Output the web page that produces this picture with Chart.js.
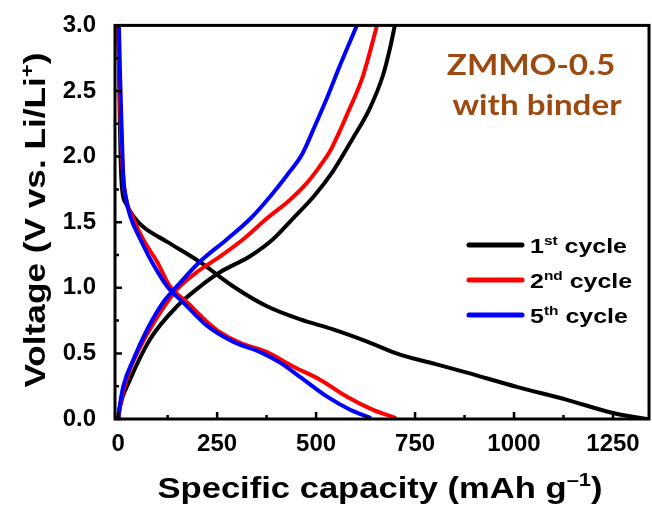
<!DOCTYPE html>
<html><head><meta charset="utf-8">
<script src="https://cdn.jsdelivr.net/npm/chart.js@4"></script>
<style>html,body{margin:0;padding:0;background:#fff}canvas{display:block}</style>
</head><body>
<canvas id="c" width="652" height="508"></canvas>
<script>
// ---- data (capacity in mAh/g, voltage in V) ----
const cycle1DischargeCap = [0, 3, 6, 10, 20, 40, 63, 124, 207, 290, 376, 460, 543, 629, 712, 800, 881, 1007, 1134, 1250, 1336];
const cycle1DischargeV   = [2.98, 2.5, 2.0, 1.75, 1.64, 1.54, 1.465, 1.35, 1.196, 1.012, 0.859, 0.759, 0.683, 0.59, 0.49, 0.42, 0.353, 0.245, 0.146, 0.046, 0.0];
const cycle1ChargeCap    = [0, 5, 30, 81, 149, 207, 258, 333, 391, 442, 495, 543, 593, 636, 669, 687, 699];
const cycle1ChargeV      = [0, 0.1, 0.30, 0.61, 0.86, 1.01, 1.12, 1.24, 1.37, 1.53, 1.70, 1.89, 2.14, 2.37, 2.62, 2.83, 3.0];
const cycle2DischargeCap = [0, 4, 8, 14, 22, 38, 63, 98, 131, 174, 225, 258, 308, 376, 442, 510, 578, 644, 699];
const cycle2DischargeV   = [2.98, 2.5, 2.1, 1.8, 1.65, 1.53, 1.37, 1.2, 1.01, 0.89, 0.74, 0.66, 0.58, 0.51, 0.40, 0.30, 0.17, 0.07, 0.01];
const cycle2ChargeCap    = [0, 5, 23, 56, 106, 149, 199, 258, 316, 376, 430, 477, 508, 535, 553, 578, 619, 654];
const cycle2ChargeV      = [0, 0.1, 0.32, 0.55, 0.81, 0.99, 1.12, 1.24, 1.37, 1.53, 1.66, 1.80, 1.92, 2.04, 2.15, 2.32, 2.62, 3.0];
const cycle5DischargeCap = [2, 5, 9, 13, 20, 30, 56, 81, 124, 164, 225, 290, 359, 409, 460, 528, 586, 636];
const cycle5DischargeV   = [3.0, 2.6, 2.2, 1.85, 1.68, 1.55, 1.37, 1.22, 1.01, 0.89, 0.71, 0.59, 0.51, 0.43, 0.32, 0.17, 0.07, 0.01];
const cycle5ChargeCap    = [0, 4, 13, 38, 73, 114, 157, 207, 275, 335, 385, 427, 465, 495, 528, 561, 603];
const cycle5ChargeV      = [0, 0.1, 0.25, 0.45, 0.68, 0.89, 1.04, 1.20, 1.37, 1.53, 1.70, 1.86, 2.02, 2.22, 2.45, 2.70, 3.0];

const xTickValues  = [0, 250, 500, 750, 1000, 1250];
const xMinorValues = [125, 375, 625, 875, 1125];
const yTickValues  = [0, 0.5, 1.0, 1.5, 2.0, 2.5, 3.0];
const yMinorValues = [0.25, 0.75, 1.25, 1.75, 2.25, 2.75];

const seriesColors   = ['#000000', '#ff0000', '#0000ff'];
const legendNumbers  = ['1', '2', '5'];
const legendSuffixes = ['st', 'nd', 'th'];
const legendWord     = ' cycle';
const xTitleParts = [{t: 'Specific capacity (mAh g'}, {t: '\u20131', sup: true}, {t: ')'}];
const yTitleParts = [{t: 'Voltage (V vs. Li/Li'}, {t: '+', sup: true}, {t: ')'}];
const noteLines = ['ZMMO-0.5', 'with binder'];

// ---- build datasets ----
const pts = (xs, ys) => xs.map((v, i) => ({x: v, y: ys[i]}));
const mk = (xs, ys, colorIdx) => ({
  data: pts(xs, ys), showLine: true, borderColor: seriesColors[colorIdx],
  backgroundColor: seriesColors[colorIdx], borderWidth: 4, pointRadius: 0,
  cubicInterpolationMode: 'monotone', fill: false, order: 2 - colorIdx,
  borderCapStyle: 'round', borderJoinStyle: 'round'
});
const datasets = [
  mk(cycle1DischargeCap, cycle1DischargeV, 0), mk(cycle1ChargeCap, cycle1ChargeV, 0),
  mk(cycle2DischargeCap, cycle2DischargeV, 1), mk(cycle2ChargeCap, cycle2ChargeV, 1),
  mk(cycle5DischargeCap, cycle5DischargeV, 2), mk(cycle5ChargeCap, cycle5ChargeV, 2)
];

const SANS = '"Liberation Sans", Arial, sans-serif';

function richWidth(ctx, parts, size, family) {
  let w = 0;
  parts.forEach(p => { ctx.font = `bold ${p.sup ? Math.round(size * 0.62) : size}px ${family}`; w += ctx.measureText(p.t).width; });
  return w;
}
function drawRich(ctx, parts, x, y, size, family, sx, align) {
  const w = richWidth(ctx, parts, size, family) * sx;
  const sxStart = align === 'center' ? x - w / 2 : x;
  ctx.save();
  ctx.translate(sxStart, y); ctx.scale(sx, 1);
  ctx.textAlign = 'left'; ctx.textBaseline = 'alphabetic';
  let off = 0;
  parts.forEach(p => {
    const fs = p.sup ? Math.round(size * 0.62) : size;
    ctx.font = `bold ${fs}px ${family}`;
    ctx.fillText(p.t, off, p.sup ? -size * 0.4 : 0);
    off += ctx.measureText(p.t).width;
  });
  ctx.restore();
}

const framePlugin = {
  id: 'frame',
  afterDatasetsDraw(chart) {
    const {ctx, chartArea: a, scales: {x, y}} = chart;
    ctx.save();
    ctx.strokeStyle = '#000'; ctx.lineWidth = 2.5; ctx.lineCap = 'butt';
    ctx.beginPath();
    xTickValues.forEach(v => { const p = x.getPixelForValue(v); ctx.moveTo(p, a.bottom); ctx.lineTo(p, a.bottom - 7); });
    xMinorValues.forEach(v => { const p = x.getPixelForValue(v); ctx.moveTo(p, a.bottom); ctx.lineTo(p, a.bottom - 4); });
    yTickValues.forEach(v => { const p = y.getPixelForValue(v); ctx.moveTo(a.left, p); ctx.lineTo(a.left + 7, p); });
    yMinorValues.forEach(v => { const p = y.getPixelForValue(v); ctx.moveTo(a.left, p); ctx.lineTo(a.left + 4, p); });
    ctx.stroke();
    ctx.lineWidth = 3;
    ctx.strokeRect(a.left, a.top, a.right - a.left, a.bottom - a.top);
    ctx.restore();
  },
  afterDraw(chart) {
    const ctx = chart.ctx;
    ctx.save();
    ctx.fillStyle = '#000';
    // x title
    let sx = 445 / richWidth(ctx, xTitleParts, 30, SANS);
    drawRich(ctx, xTitleParts, 380, 498, 30, SANS, sx, 'center');
    // y title
    ctx.save();
    ctx.translate(45, 220); ctx.rotate(-Math.PI / 2);
    sx = 335 / richWidth(ctx, yTitleParts, 30, SANS);
    drawRich(ctx, yTitleParts, 0, 0, 30, SANS, sx, 'center');
    ctx.restore();
    // legend
    const lsx = 97 / richWidth(ctx, [{t: '1'}, {t: 'st', sup: true}, {t: legendWord}], 21, SANS);
    [245, 280, 315].forEach((ly, i) => {
      ctx.strokeStyle = seriesColors[i]; ctx.lineWidth = 5; ctx.lineCap = 'round';
      ctx.beginPath(); ctx.moveTo(469, ly); ctx.lineTo(522, ly); ctx.stroke();
      ctx.fillStyle = '#000';
      drawRich(ctx, [{t: legendNumbers[i]}, {t: legendSuffixes[i], sup: true}, {t: legendWord}], 530, ly + 8, 21, SANS, lsx, 'left');
    });
    // note
    ctx.fillStyle = '#9c4a10';
    const NOTE = 'Lato, "Open Sans", sans-serif';
    const nsx = 169 / richWidth(ctx, [{t: noteLines[1]}], 28, NOTE);
    drawRich(ctx, [{t: noteLines[0]}], 531, 75, 28, NOTE, nsx, 'center');
    drawRich(ctx, [{t: noteLines[1]}], 537, 115, 28, NOTE, nsx, 'center');
    ctx.restore();
  }
};

new Chart(document.getElementById('c'), {
  type: 'scatter',
  data: {datasets},
  options: {
    responsive: false, animation: false, devicePixelRatio: 1,
    layout: {padding: {top: 23, right: 3, left: 0, bottom: 0}},
    plugins: {legend: {display: false}, tooltip: {enabled: false}},
    scales: {
      x: {
        type: 'linear', min: -8, max: 1341,
        grid: {display: false}, border: {display: false},
        ticks: {stepSize: 250, includeBounds: false, padding: 3, color: '#000', maxRotation: 0,
                font: {family: SANS, size: 24, weight: 'bold'},
                callback: v => xTickValues.includes(v) ? String(v) : ''},
        afterFit: s => { s.height = 89; }
      },
      y: {
        type: 'linear', min: 0, max: 3,
        grid: {display: false}, border: {display: false},
        ticks: {stepSize: 0.5, padding: 11, color: '#000',
                font: {family: SANS, size: 24, weight: 'bold'},
                callback: v => yTickValues.includes(v) ? v.toFixed(1) : ''},
        afterFit: s => { s.width = 115; }
      }
    }
  },
  plugins: [framePlugin]
});
</script>
</body></html>
